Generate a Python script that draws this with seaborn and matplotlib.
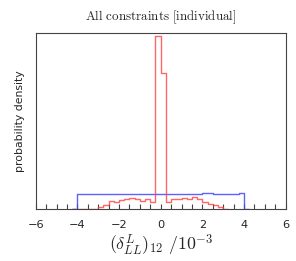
import numpy as np
import pandas as pd
import matplotlib
matplotlib.use("Agg")
import matplotlib.pyplot as plt
import seaborn as sns

sns.set_style("white")
plt.rcParams['font.family'] = ['DejaVu Sans']
plt.rcParams['mathtext.fontset'] = 'cm'

# Bin edges (units of 1e-3), width 0.25
blue_edges = [round(-4.25 + 0.25 * i, 2) for i in range(35)]
red_edges = [round(-4.25 + 0.25 * i, 2) for i in range(31)]

# Blue (prior-like) densities, per bin, first & last are empty
blue_density = [0.0,
                0.121, 0.128, 0.127, 0.128, 0.127, 0.128, 0.126, 0.127,
                0.128, 0.127, 0.126, 0.127, 0.128, 0.127, 0.126, 0.125,
                0.126, 0.127, 0.127, 0.128, 0.128, 0.129, 0.124, 0.123,
                0.130, 0.135, 0.128, 0.127, 0.127, 0.126, 0.126, 0.132,
                0.0]

# Red (posterior) densities
red_density = [0.0, 0.0, 0.0, 0.0, 0.0,
               0.017, 0.034, 0.065, 0.056, 0.073, 0.086, 0.091, 0.082,
               0.069, 0.078, 0.056,
               1.483, 1.164,
               0.060, 0.082, 0.086, 0.091, 0.086, 0.095, 0.078, 0.060,
               0.043, 0.030, 0.015,
               0.0]

be = np.array(blue_edges)
re_ = np.array(red_edges)
blue_df = pd.DataFrame({"x": (be[:-1] + be[1:]) / 2, "w": blue_density})
red_df = pd.DataFrame({"x": (re_[:-1] + re_[1:]) / 2, "w": red_density})

fig = plt.figure(figsize=(2.96, 2.61), dpi=100)
ax = fig.add_axes([0.1206, 0.2011, 0.8446, 0.6725])

sns.histplot(data=blue_df, x="x", weights="w", bins=blue_edges, element="step",
             fill=False, stat="count", color="#4444ff", alpha=0.85, linewidth=1.0, ax=ax)
sns.histplot(data=red_df, x="x", weights="w", bins=red_edges, element="step",
             fill=False, stat="count", color="#ff3333", alpha=0.75, linewidth=1.0, ax=ax)

ax.set_xlim(-6, 6)
ax.set_ylim(0, 1.513)
ax.set_xticks([-6, -4, -2, 0, 2, 4, 6])
ax.set_xticks(np.arange(-6, 6.01, 0.5), minor=True)
ax.set_yticks([])
ax.tick_params(axis='x', which='both', direction='in', length=3.5, width=0.8,
               color='#444444', bottom=True, top=False, labelsize=8.2, pad=8)
for s in ax.spines.values():
    s.set_color('#444444')
    s.set_linewidth(0.8)

ax.set_xlabel(r'$(\delta^L_{LL})_{12}\ /10^{-3}$', fontsize=12.8, labelpad=2)
ax.set_ylabel('probability density', fontsize=7.8, labelpad=8)
ax.set_title(r'$\mathrm{All\ constraints\ [individual]}$', fontsize=9.4, pad=9)

fig.savefig("out.png", dpi=100)
